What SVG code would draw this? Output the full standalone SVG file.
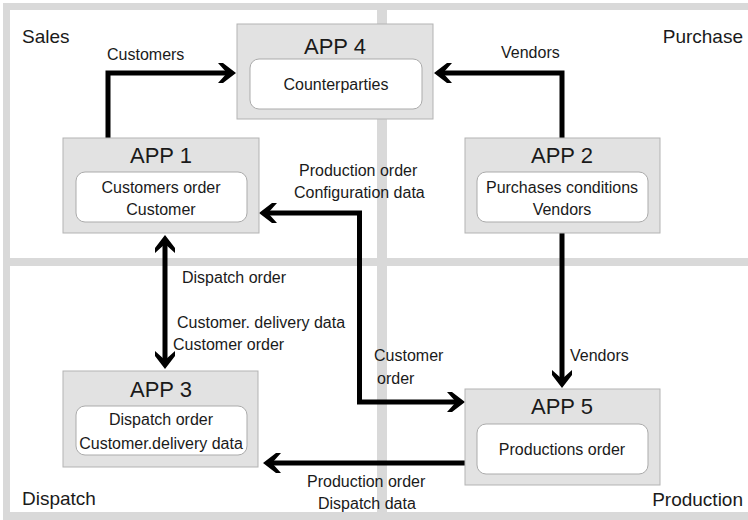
<svg xmlns="http://www.w3.org/2000/svg" width="748" height="520" viewBox="0 0 748 520">
<style>
.t{font-family:"Liberation Sans",Arial,sans-serif;fill:#1a1a1a}
.title{font-size:22px;text-anchor:middle}
.in{font-size:16px;text-anchor:middle}
.lbl{font-size:16px}
.reg{font-size:19px}
.box{fill:#e2e2e2;stroke:#b3b3b3;stroke-width:1}
.inner{fill:#fff;stroke:#ababab;stroke-width:1}
.con{fill:none;stroke:#000;stroke-width:5;marker-end:url(#ah)}
</style>
<defs>
<marker id="ah" markerUnits="userSpaceOnUse" viewBox="0 0 20 20" markerWidth="20" markerHeight="20" refX="10" refY="10" orient="auto-start-reverse">
<path d="M18,10 L5,0 L0,0 L9,10 L0,20 L5,20 Z" fill="#000"/>
</marker>
</defs>
<rect x="0" y="0" width="748" height="520" fill="#fff"/>
<g id="frame">
<rect x="3" y="3" width="745" height="517" fill="#d9d9d9"/>
<rect x="10" y="10" width="367" height="248" fill="#fff"/>
<rect x="387" y="10" width="361" height="248" fill="#fff"/>
<rect x="10" y="266" width="367" height="246" fill="#fff"/>
<rect x="387" y="266" width="361" height="246" fill="#fff"/>
<text class="t reg" x="22" y="43">Sales</text>
<text class="t reg" x="743" y="43" text-anchor="end">Purchase</text>
<text class="t reg" x="22" y="505">Dispatch</text>
<text class="t reg" x="743" y="506" text-anchor="end">Production</text>
</g>
<g id="connectors">
<path class="con" d="M108,138 V73 H228"/>
<path class="con" d="M562,138 V73 H442"/>
<path class="con" d="M165,243 V361" style="marker-start:url(#ah)"/>
<path class="con" d="M267,213 H359.5 V402 H457" style="marker-start:url(#ah)"/>
<path class="con" d="M562,233 V380"/>
<path class="con" d="M465,463 H271"/>
<text class="t lbl" x="107" y="60">Customers</text>
<text class="t lbl" x="501" y="58">Vendors</text>
<text class="t lbl" x="299" y="176">Production order</text>
<text class="t lbl" x="294" y="198">Configuration data</text>
<text class="t lbl" x="182" y="283">Dispatch order</text>
<text class="t lbl" x="177" y="328">Customer. delivery data</text>
<text class="t lbl" x="173" y="350">Customer order</text>
<text class="t lbl" x="374" y="361">Customer</text>
<text class="t lbl" x="377" y="384">order</text>
<text class="t lbl" x="570" y="361">Vendors</text>
<text class="t lbl" x="307" y="487">Production order</text>
<text class="t lbl" x="318" y="509">Dispatch data</text>
</g>
<g id="app4">
<rect class="box" x="237" y="24" width="196" height="95"/>
<text class="t title" x="335" y="54">APP 4</text>
<rect class="inner" x="250" y="59" width="172" height="50" rx="9"/>
<text class="t in" x="336" y="90">Counterparties</text>
</g>
<g id="app1">
<rect class="box" x="63" y="138" width="196" height="95"/>
<text class="t title" x="161" y="163">APP 1</text>
<rect class="inner" x="76" y="172" width="171" height="50" rx="9"/>
<text class="t in" x="161" y="193">Customers order</text>
<text class="t in" x="161" y="215">Customer</text>
</g>
<g id="app2">
<rect class="box" x="465" y="138" width="195" height="95"/>
<text class="t title" x="562" y="163">APP 2</text>
<rect class="inner" x="477" y="172" width="171" height="50" rx="9"/>
<text class="t in" x="562" y="193">Purchases conditions</text>
<text class="t in" x="562" y="215">Vendors</text>
</g>
<g id="app3">
<rect class="box" x="63" y="371" width="195" height="96"/>
<text class="t title" x="161" y="397">APP 3</text>
<rect class="inner" x="76" y="406" width="171" height="49" rx="9"/>
<text class="t in" x="161" y="425">Dispatch order</text>
<text class="t in" x="161" y="449">Customer.delivery data</text>
</g>
<g id="app5">
<rect class="box" x="465" y="389" width="195" height="96"/>
<text class="t title" x="562" y="414">APP 5</text>
<rect class="inner" x="477" y="424" width="171" height="50" rx="9"/>
<text class="t in" x="562" y="455">Productions order</text>
</g>
</svg>
